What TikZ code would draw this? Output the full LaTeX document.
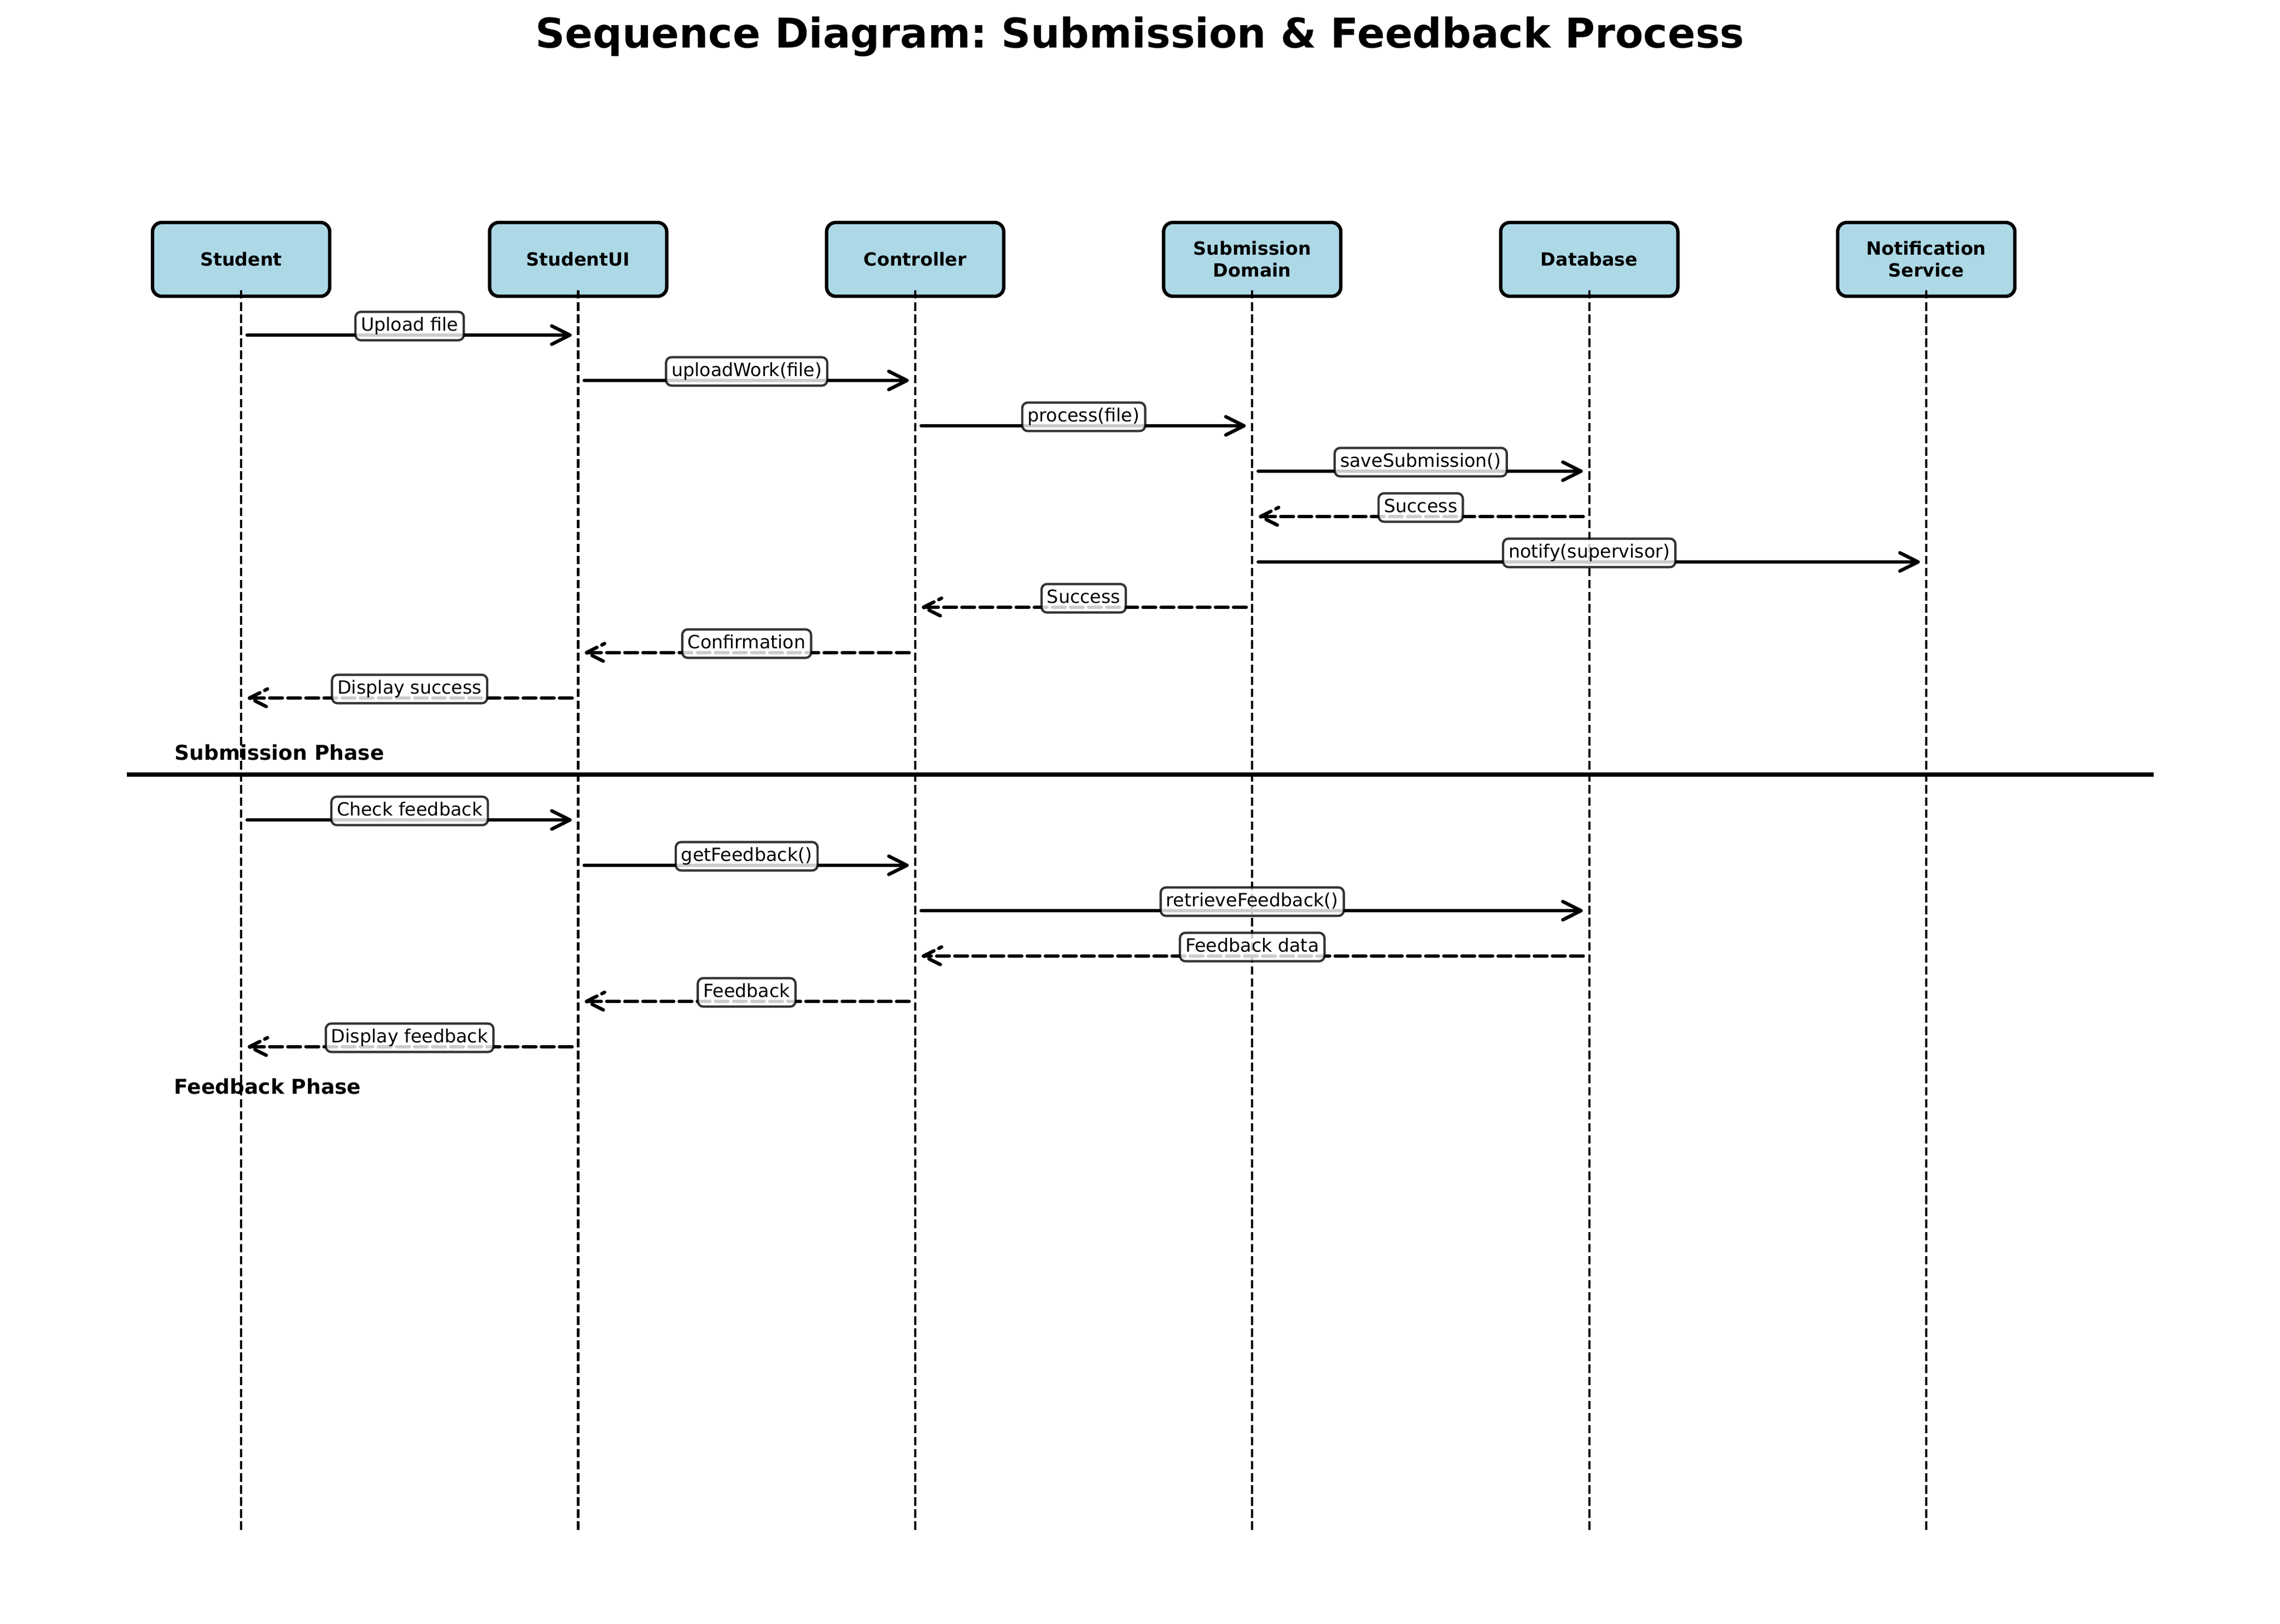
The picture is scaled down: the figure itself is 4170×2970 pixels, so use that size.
\documentclass[tikz,border=0pt]{standalone}
\usepackage{fontspec}
\setmainfont{DejaVu Sans}
\usetikzlibrary{calc}
\frenchspacing
\definecolor{partblue}{RGB}{173,216,230}
\tikzset{
  participant/.style={draw=black, line width=1.5bp, fill=partblue, rounded corners=4bp,
    minimum width=77.76bp, minimum height=32.4bp, inner sep=0pt, align=center,
    font=\fontsize{8bp}{9.6bp}\selectfont\bfseries},
  lifeline/.style={line width=1bp, dash pattern=on 3.7bp off 1.6bp},
  callline/.style={line width=1.5bp, line cap=round, line join=round},
  retline/.style={callline, dash pattern=on 5.55bp off 2.4bp},
  callhead/.style={callline},
  rethead/.style={callline, dash pattern=on 5.55bp off 2.4bp, dash phase=4.18bp},
  msglabel/.style={draw=black, draw opacity=0.8, fill=white, fill opacity=0.8, text opacity=1,
    line width=1bp, rounded corners=2.4bp, inner xsep=2.4bp, inner ysep=2.4bp,
    text height=5.9bp, text depth=1.8bp, anchor=base,
    font=\fontsize{8bp}{9.6bp}\selectfont},
  phaselabel/.style={anchor=base west, inner sep=0pt, font=\fontsize{9bp}{10.8bp}\selectfont\bfseries},
  titlelabel/.style={anchor=base, inner sep=0pt, font=\fontsize{18bp}{21.6bp}\selectfont\bfseries},
  separator/.style={line width=2bp, line cap=butt}
}
\newcommand\seqmsg[5]{%
  \coordinate (ms) at ($(#1.center |- #3)!2.64bp!(#2.center |- #3)$);
  \coordinate (mt) at ($(#2.center |- #3)!3.6bp!(#1.center |- #3)$);
  \coordinate (mb) at ($(mt)!8bp!(ms)$);
  \draw[#5line] (ms) -- (mt);
  \draw[#5head] ($(mb)+(0,-16.7)$) -- (mt) -- ($(mb)+(0,16.7)$);
  \node[msglabel] at ($(#1.center |- #3)!0.5!(#2.center |- #3)+(0,-8)$) {#4};
}
\begin{document}
\begin{tikzpicture}[x=0.0846667mm, y=-0.0846667mm]
\useasboundingbox (0,0) rectangle (4170,2970);
\fill[white] (0,0) rectangle (4170,2970);

% title
\node[titlelabel] (title) at (2085,87) {Sequence Diagram: Submission \& Feedback Process};

% participants
\node[participant] (student) at (441,474.5) {Student};
\node[participant] (studentui) at (1057.4,474.5) {StudentUI};
\node[participant] (controller) at (1673.8,474.5) {Controller};
\node[participant] (domain) at (2290.2,474.5) {Submission\\Domain};
\node[participant] (database) at (2906.6,474.5) {Database};
\node[participant] (notify) at (3523,474.5) {Notification\\Service};

% lifelines
\coordinate (llbot) at (0,2799);
\foreach \p in {student,studentui,controller,domain,database,notify}
  \draw[lifeline] ($(\p.center)+(0,56.5)$) -- (\p.center |- llbot);

% separator
\coordinate (sepL) at (232,1417);
\coordinate (sepR) at (3939,1417);
\draw[separator] (sepL) -- (sepR);

% rows
\coordinate (r1) at (0,613);
\coordinate (r2) at (0,696);
\coordinate (r3) at (0,779);
\coordinate (r4) at (0,862);
\coordinate (r5) at (0,945);
\coordinate (r6) at (0,1028);
\coordinate (r7) at (0,1111);
\coordinate (r8) at (0,1194);
\coordinate (r9) at (0,1277);
\coordinate (f1) at (0,1500);
\coordinate (f2) at (0,1583);
\coordinate (f3) at (0,1666);
\coordinate (f4) at (0,1749);
\coordinate (f5) at (0,1832);
\coordinate (f6) at (0,1915);

% submission phase
\seqmsg{student}{studentui}{r1}{Upload file}{call}
\seqmsg{studentui}{controller}{r2}{uploadWork(file)}{call}
\seqmsg{controller}{domain}{r3}{process(file)}{call}
\seqmsg{domain}{database}{r4}{saveSubmission()}{call}
\seqmsg{database}{domain}{r5}{Success}{ret}
\seqmsg{domain}{notify}{r6}{notify(supervisor)}{call}
\seqmsg{domain}{controller}{r7}{Success}{ret}
\seqmsg{controller}{studentui}{r8}{Confirmation}{ret}
\seqmsg{studentui}{student}{r9}{Display success}{ret}

% feedback phase
\seqmsg{student}{studentui}{f1}{Check feedback}{call}
\seqmsg{studentui}{controller}{f2}{getFeedback()}{call}
\seqmsg{controller}{database}{f3}{retrieveFeedback()}{call}
\seqmsg{database}{controller}{f4}{Feedback data}{ret}
\seqmsg{controller}{studentui}{f5}{Feedback}{ret}
\seqmsg{studentui}{student}{f6}{Display feedback}{ret}

% phase labels
\node[phaselabel] (subphase) at (319,1390) {Submission Phase};
\node[phaselabel] (fbphase) at (318,2001) {Feedback Phase};
\end{tikzpicture}
\end{document}
